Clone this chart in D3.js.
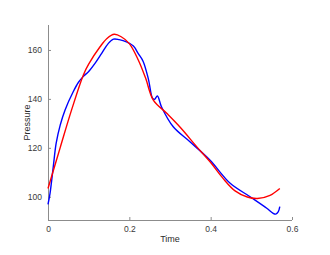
<!DOCTYPE html>
<html>
<head>
<meta charset="utf-8">
<script src="https://cdn.jsdelivr.net/npm/d3@7"></script>
<style>
  body { margin: 0; background: #fff; }
  text { font-family: "Liberation Sans", Arial, sans-serif; }
</style>
</head>
<body>
<div id="chart"></div>
<script>
// measured pressure (blue)
var measuredTime = [0, 0.005, 0.013, 0.02, 0.03, 0.042, 0.062, 0.075, 0.087, 0.1, 0.116, 0.132, 0.148, 0.161, 0.175, 0.193, 0.21, 0.222, 0.234, 0.247, 0.257, 0.262, 0.269, 0.279, 0.308, 0.349, 0.398, 0.448, 0.497, 0.538, 0.553, 0.56, 0.566, 0.57];
var measuredPressure = [96.9, 101.4, 112.3, 121.8, 129.3, 135.5, 142.9, 146.8, 149.2, 151.2, 154.6, 158.6, 162.6, 164.4, 164.2, 163.3, 161.6, 158.5, 155.3, 148, 140.3, 139.8, 141.2, 136.8, 128.6, 122.5, 115.0, 105.5, 100, 95.3, 93.3, 92.9, 93.8, 96];

// fitted pressure (red)
var fitTime = [0, 0.03, 0.058, 0.087, 0.1, 0.128, 0.145, 0.163, 0.18, 0.2, 0.222, 0.24, 0.259, 0.292, 0.325, 0.366, 0.4, 0.43, 0.46, 0.49, 0.515, 0.546, 0.57];
var fitPressure = [103.4, 120.1, 135.5, 149.8, 154.2, 161.3, 164.7, 166.4, 165.4, 162.6, 155.9, 148.5, 139.5, 134.1, 128.4, 120.4, 114.0, 107.6, 102.4, 99.9, 99.3, 100.6, 103.4];

var xTicks = [0, 0.2, 0.4, 0.6];
var yTicks = [100, 120, 140, 160];

var width = 330, height = 255;
var plotLeft = 48, plotRight = 292, plotTop = 25, plotBottom = 220;

var svg = d3.select('#chart').append('svg')
    .attr('width', width)
    .attr('height', height);

var x = d3.scaleLinear().domain([0, 0.6]).range([plotLeft, plotRight]);
var y = d3.scaleLinear().domain([90.5, 170.2]).range([plotBottom, plotTop]);

// axes, MATLAB style: ticks pointing in
var xAxis = svg.append('g')
    .attr('transform', 'translate(0,' + plotBottom + ')')
    .call(d3.axisBottom(x).tickValues(xTicks).tickSize(-3).tickPadding(6).tickFormat(d3.format('')));
var yAxis = svg.append('g')
    .attr('transform', 'translate(' + plotLeft + ',0)')
    .call(d3.axisLeft(y).tickValues(yTicks).tickSize(-3).tickPadding(6));

xAxis.select('.domain').attr('d', 'M' + plotLeft + ',0.5H' + plotRight);
yAxis.select('.domain').attr('d', 'M0.5,' + plotTop + 'V' + plotBottom);

[xAxis, yAxis].forEach(function (ax) {
    ax.select('.domain').attr('stroke', '#8c8c8c').attr('shape-rendering', 'crispEdges');
    ax.selectAll('.tick line').attr('stroke', '#8c8c8c');
    ax.selectAll('.tick text')
        .style('font-family', '"Liberation Sans", Arial, sans-serif')
        .style('font-size', '8.5px')
        .attr('fill', '#3a3a3a');
});

svg.append('text')
    .attr('x', (plotLeft + plotRight) / 2)
    .attr('y', 242)
    .attr('text-anchor', 'middle')
    .style('font-size', '9px')
    .attr('fill', '#2a2a2a')
    .text('Time');

svg.append('text')
    .attr('transform', 'translate(30,' + ((plotTop + plotBottom) / 2) + ') rotate(-90)')
    .attr('text-anchor', 'middle')
    .style('font-size', '9px')
    .attr('fill', '#2a2a2a')
    .text('Pressure');

function drawSeries(ts, ps, color) {
    var pts = ts.map(function (t, i) { return [t, ps[i]]; });
    svg.append('path')
        .datum(pts)
        .attr('fill', 'none')
        .attr('stroke', color)
        .attr('stroke-width', 1.4)
        .attr('d', d3.line()
            .curve(d3.curveCatmullRom.alpha(0.5))
            .x(function (d) { return x(d[0]); })
            .y(function (d) { return y(d[1]); }));
}

drawSeries(measuredTime, measuredPressure, '#0000ff');
drawSeries(fitTime, fitPressure, '#ff0000');
</script>
</body>
</html>
